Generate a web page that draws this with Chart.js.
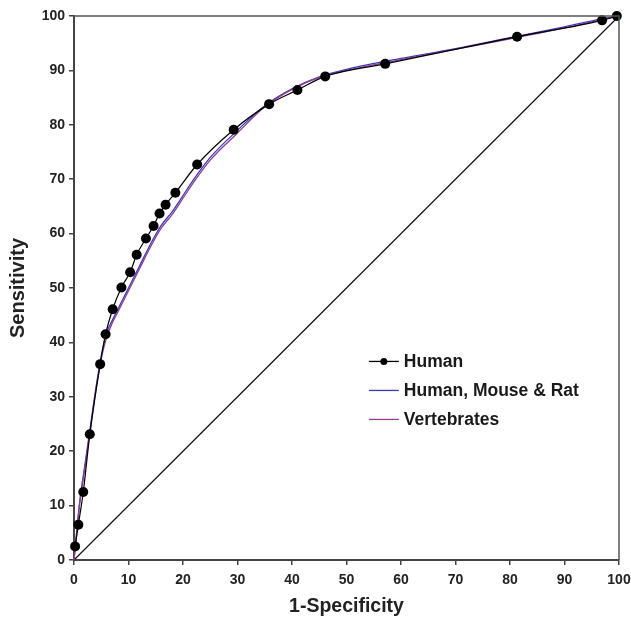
<!DOCTYPE html>
<html>
<head>
<meta charset="utf-8">
<script src="https://cdn.jsdelivr.net/npm/chart.js@4/dist/chart.umd.min.js"></script>
<style>
  html, body { margin: 0; padding: 0; background: #fff; }
  #wrap { width: 631px; height: 621px; }
</style>
</head>
<body>
<div id="wrap"><canvas id="rocChart" width="631" height="621"></canvas></div>
<script>
// ROC curves, 1-specificity (x) vs sensitivity (y), both in %
var humanX = [0.2, 0.8, 1.7, 2.9, 4.8, 5.8, 7.1, 8.7, 10.3, 11.5, 13.2, 14.6, 15.7, 16.8, 18.6, 22.6, 29.3, 35.8, 41.0, 46.1, 57.1, 81.3, 96.9, 99.6];
var humanY = [2.5, 6.5, 12.5, 23.1, 36.0, 41.5, 46.1, 50.1, 52.9, 56.1, 59.1, 61.4, 63.7, 65.3, 67.5, 72.7, 79.1, 83.8, 86.4, 88.9, 91.2, 96.2, 99.2, 100];

var otherX = [0, 0.5, 1, 2, 3, 4, 5, 6, 7, 8, 10, 12, 14, 16, 18, 20, 22, 25, 30, 35, 40, 45, 50, 60, 70, 80, 90, 97, 100];
var hmrY = [0, 5.2, 10.3, 17.5, 24.5, 31.5, 37.5, 41.8, 44, 46, 50, 54, 58, 61.5, 64, 67, 70, 74, 79, 83.5, 86.6, 88.8, 90.2, 92.2, 94, 96, 98, 99.5, 100];
var vertY = [0, 5, 10, 17, 24, 31, 37, 41, 43.5, 45.5, 49.5, 53.5, 57.5, 61, 63.5, 66.5, 69.5, 73.5, 78.5, 83.3, 86.5, 88.7, 90, 92, 93.9, 95.8, 97.8, 99.4, 100];

var chanceX = [0, 100];
var chanceY = [0, 100];

var seriesNames = ['Human', 'Human, Mouse & Rat', 'Vertebrates'];
var axisTicks = [0, 10, 20, 30, 40, 50, 60, 70, 80, 90, 100];

function pts(xs, ys) {
  return xs.map(function (x, i) { return { x: x, y: ys[i] }; });
}

var fontFam = 'Arial, "Liberation Sans", Helvetica, sans-serif';

// box round the plot area
var frame = {
  id: 'frame',
  afterDraw: function (chart) {
    var a = chart.chartArea, c = chart.ctx;
    c.save();
    c.strokeStyle = '#555';
    c.lineWidth = 1.5;
    c.beginPath();
    c.moveTo(a.left, a.top);
    c.lineTo(a.right, a.top);
    c.lineTo(a.right, a.bottom);
    c.stroke();
    c.restore();
  }
};

// legend sitting inside the plot
var insideLegend = {
  id: 'insideLegend',
  afterDraw: function (chart) {
    var a = chart.chartArea, c = chart.ctx;
    var x0 = a.left + (a.right - a.left) * 0.541;
    var y0 = a.top + (a.bottom - a.top) * 0.635;
    var gap = 29;
    c.save();
    c.font = 'bold 17.5px ' + fontFam;
    c.textBaseline = 'middle';
    seriesNames.forEach(function (name, i) {
      var ds = chart.data.datasets.find(function (d) { return d.label === name; });
      var y = y0 + i * gap;
      c.strokeStyle = ds.borderColor;
      c.lineWidth = 1.3;
      c.beginPath();
      c.moveTo(x0, y);
      c.lineTo(x0 + 30, y);
      c.stroke();
      if (ds.pointRadius > 0) {
        c.fillStyle = '#000';
        c.beginPath();
        c.arc(x0 + 15, y, 3.5, 0, Math.PI * 2);
        c.fill();
      }
      c.fillStyle = '#1a1a1a';
      c.fillText(name, x0 + 35, y + 1);
    });
    c.restore();
  }
};

var ctx = document.getElementById('rocChart').getContext('2d');
var rocChart = new Chart(ctx, {
  type: 'line',
  data: {
    datasets: [
      {
        label: seriesNames[0],
        data: pts(humanX, humanY),
        borderColor: '#000',
        backgroundColor: '#000',
        borderWidth: 1.2,
        pointRadius: 5,
        pointBackgroundColor: '#000',
        pointBorderWidth: 0,
        cubicInterpolationMode: 'monotone'
      },
      {
        label: seriesNames[2],
        data: pts(otherX, vertY),
        borderColor: '#8e3c8e',
        borderWidth: 1.3,
        pointRadius: 0,
        cubicInterpolationMode: 'monotone'
      },
      {
        label: seriesNames[1],
        data: pts(otherX, hmrY),
        borderColor: '#3a3ab8',
        borderWidth: 1.3,
        pointRadius: 0,
        cubicInterpolationMode: 'monotone'
      },
      {
        label: 'chance',
        data: pts(chanceX, chanceY),
        borderColor: '#111',
        borderWidth: 1.2,
        pointRadius: 0
      }
    ]
  },
  options: {
    responsive: false,
    animation: false,
    clip: false,
    layout: { padding: { left: 0, right: 12, top: 16, bottom: 0 } },
    plugins: {
      legend: { display: false },
      tooltip: { enabled: false }
    },
    scales: {
      x: {
        type: 'linear',
        min: 0,
        max: 100,
        afterBuildTicks: function (s) { s.ticks = axisTicks.map(function (v) { return { value: v }; }); },
        afterFit: function (s) { s.height = 61; s.paddingLeft = 0; s.paddingRight = 0; },
        border: { color: '#444', width: 2 },
        grid: { drawOnChartArea: false, drawTicks: true, tickLength: 5, color: '#444', lineWidth: 1.5 },
        ticks: { color: '#222', font: { family: fontFam, size: 14, weight: 'bold' }, padding: 7, maxRotation: 0 },
        title: { display: true, text: '1-Specificity', color: '#222', font: { family: fontFam, size: 19.5, weight: 'bold' }, padding: { top: 0, bottom: 3 } }
      },
      y: {
        type: 'linear',
        min: 0,
        max: 100,
        afterBuildTicks: function (s) { s.ticks = axisTicks.map(function (v) { return { value: v }; }); },
        afterFit: function (s) { s.width = 74; s.paddingTop = 0; s.paddingBottom = 0; },
        border: { color: '#444', width: 2 },
        grid: { drawOnChartArea: false, drawTicks: true, tickLength: 5, color: '#444', lineWidth: 1.5 },
        ticks: { color: '#222', font: { family: fontFam, size: 14, weight: 'bold' }, padding: 4 },
        title: { display: true, text: 'Sensitivity', color: '#222', font: { family: fontFam, size: 20, weight: 'bold' }, padding: { top: 6, bottom: 0 } }
      }
    }
  },
  plugins: [frame, insideLegend]
});
</script>
</body>
</html>
